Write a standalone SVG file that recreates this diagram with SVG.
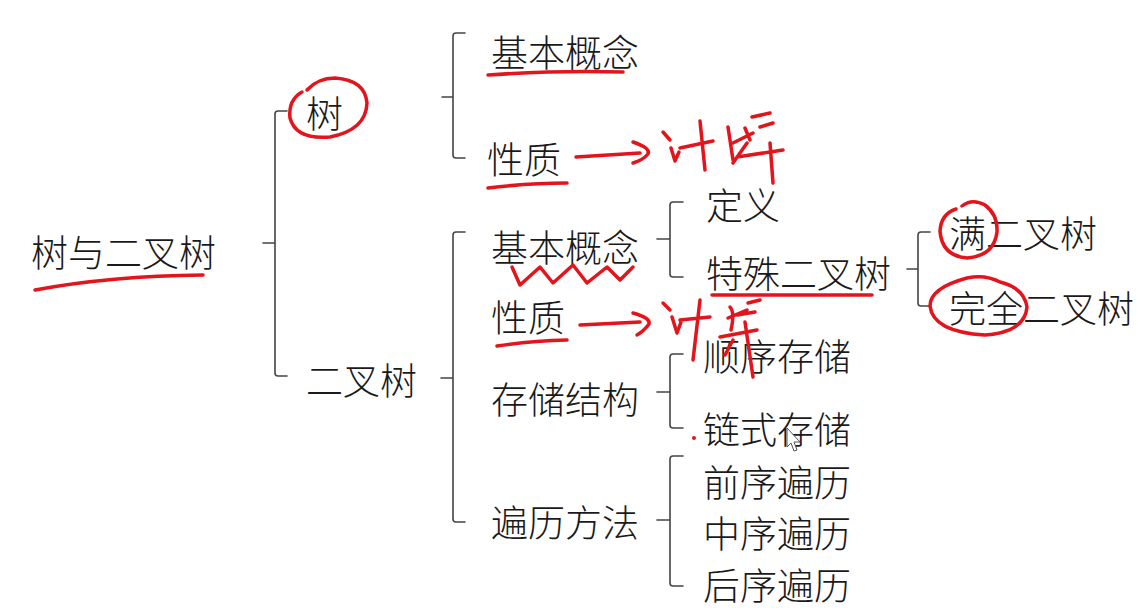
<svg xmlns="http://www.w3.org/2000/svg" width="1146" height="611" viewBox="0 0 1146 611">
<style>
text{font-family:"Noto Sans CJK SC","Noto Sans",sans-serif;font-size:37px;font-weight:300;fill:#1a1a1a;dominant-baseline:central}
.br{fill:none;stroke:#444;stroke-width:1.6;stroke-linecap:round;stroke-linejoin:round}
.ink{fill:none;stroke:#e3141b;stroke-width:3.5;stroke-linecap:round;stroke-linejoin:round}
</style>
<rect width="1146" height="611" fill="#fff"/>
<g id="connectors">
<path class="br" d="M287 111 L278 111 Q275 111 275 114 L275 373 Q275 376 278 376 L287 376 M263 243 L275 243"/>
<path class="br" d="M465 33 L456 33 Q453 33 453 36 L453 155 Q453 158 456 158 L465 158 M442 97 L453 97"/>
<path class="br" d="M465 232 L456 232 Q453 232 453 235 L453 519 Q453 522 456 522 L465 522 M441 378 L453 378"/>
<path class="br" d="M683 202 L673 202 Q670 202 670 205 L670 274 Q670 277 673 277 L683 277 M657 239 L670 239"/>
<path class="br" d="M930 232 L921 232 Q918 232 918 235 L918 303 Q918 306 921 306 L930 306 M907 269 L918 269"/>
<path class="br" d="M683 354 L673 354 Q670 354 670 357 L670 425 Q670 428 673 428 L683 428 M657 392 L670 392"/>
<path class="br" d="M683 456 L673 456 Q670 456 670 459 L670 583 Q670 586 673 586 L683 586 M657 520 L670 520"/>
</g>
<g id="n-root"><text x="31" y="251">树与二叉树</text></g>
<g id="n-tree"><text x="306" y="112">树</text></g>
<g id="n-btree"><text x="306" y="379">二叉树</text></g>
<g id="n-tree-concept"><text x="491" y="51">基本概念</text></g>
<g id="n-tree-prop"><text x="487" y="158">性质</text></g>
<g id="n-bt-concept"><text x="491" y="246">基本概念</text></g>
<g id="n-bt-prop"><text x="491" y="316">性质</text></g>
<g id="n-bt-storage"><text x="491" y="398">存储结构</text></g>
<g id="n-bt-traverse"><text x="491" y="521">遍历方法</text></g>
<g id="n-def"><text x="706" y="204">定义</text></g>
<g id="n-special"><text x="706" y="272">特殊二叉树</text></g>
<g id="n-full"><text x="949" y="232">满二叉树</text></g>
<g id="n-complete"><text x="949" y="307">完全二叉树</text></g>
<g id="n-seq"><text x="703" y="355">顺序存储</text></g>
<g id="n-link"><text x="703" y="428">链式存储</text></g>
<g id="n-pre"><text x="703" y="481">前序遍历</text></g>
<g id="n-in"><text x="703" y="532">中序遍历</text></g>
<g id="n-post"><text x="703" y="584">后序遍历</text></g>
<g id="annotations">
<path class="ink" d="M35 290 Q110 276 203 275"/>
<path class="ink" d="M307 90 Q318 78 335 78 Q365 80 367 103 Q366 130 330 137 Q296 140 290 118 Q288 100 302 92"/>
<path class="ink" d="M488 75 Q560 70 623 72"/>
<path class="ink" d="M488 188 Q530 183 567 183"/>
<path class="ink" d="M576 157 L640 153 M633 142 Q651 148 648 154 Q643 160 633 163"/>
<path class="ink" d="M663 132 L670 140 M671 148 L675 161 L679 152 M680 148 L713 141 M700 121 L705 170"/>
<path class="ink" d="M728 127 L733 160 M733 143 L753 133 M752 117 L770 113 M760 127 L773 123 M737 157 L783 150 M770 143 L773 183 M747 143 L733 163 M745 128 L750 140"/>
<path class="ink" d="M512 267 L520 285 L540 267 L553 283 L573 265 L587 283 L607 267 L620 280 L633 267"/>
<path class="ink" d="M712 295 L872 295"/>
<path class="ink" d="M962 206 Q972 198 985 205 Q998 215 997 232 Q994 256 967 258 Q942 256 940 231 Q941 214 956 209"/>
<path class="ink" d="M1000 282 Q985 274 967 278 Q930 288 930 306 Q933 332 985 335 Q1025 332 1027 307 Q1024 288 1000 282"/>
<path class="ink" d="M497 346 Q530 341 567 340"/>
<path class="ink" d="M580 325 L640 322 M633 313 Q651 318 649 324 Q644 331 637 335"/>
<path class="ink" d="M663 303 L670 310 M672 317 L677 333 L681 322 M680 320 L710 317 M700 300 L693 360"/>
<path class="ink" d="M730 307 Q735 312 731 330 M728 318 L747 310 M748 303 L760 300 M737 315 L755 312 M720 337 L757 330 M745 322 L753 377 M733 340 L725 355"/>
<circle cx="694" cy="438" r="2" fill="#e3141b"/>
</g>
<path d="M787 428 L787 447 L791 443 L794 451 L797 450 L794 442 L800 442 Z" fill="#fff" stroke="#555" stroke-width="1"/>
</svg>
